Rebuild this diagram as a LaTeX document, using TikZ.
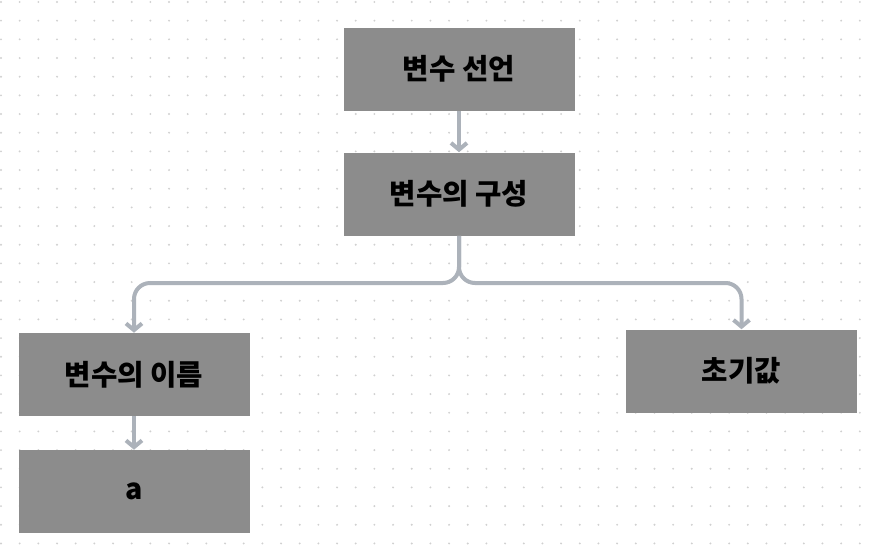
\documentclass[tikz,border=0pt]{standalone}
\usepackage{fontspec}
\newfontfamily\kr{Noto Sans CJK KR}[BoldFont={Noto Sans CJK KR Black}]
\usetikzlibrary{arrows.meta}
\definecolor{boxgray}{RGB}{140,140,140}
\definecolor{linegray}{RGB}{172,178,186}
\definecolor{dotgray}{RGB}{208,208,208}
\tikzset{
  stepbox/.style={draw=none,fill=boxgray,minimum width=231*0.75pt,minimum height=83*0.75pt,inner sep=0pt,font=\kr\bfseries\fontsize{21.5}{25}\selectfont,text=black},
  conn/.style={draw=linegray,line width=3pt,rounded corners=12pt,-{Straight Barb[length=5pt,width=12pt]}}
}
\begin{document}
\begin{tikzpicture}[x=0.75pt,y=-0.75pt]
\useasboundingbox (0,0) rectangle (875,544);
\fill[white] (0,0) rectangle (875,544);
\foreach \i in {0,...,46}{
  \foreach \j in {0,...,29}{
    \fill[dotgray] (1+\i*18.67,2+\j*18.67) circle (0.8pt);
  }
}
\node[stepbox] (decl) at (459,69) {변수 선언};
\node[stepbox] (comp) at (459,194) {변수의 구성};
\node[stepbox] (name) at (134,374.5) {변수의 이름};
\node[stepbox] (a) at (134,491.5) {a};
\node[stepbox] (init) at (741.5,371) {초기값};
\coordinate (split) at (459,283);
\draw[conn] (decl) -- (comp);
\draw[conn] (comp.south) -- (split) -| (name.north);
\draw[conn] (comp.south) -- (split) -| (init.north);
\draw[conn] (name) -- (a);
\end{tikzpicture}
\end{document}
